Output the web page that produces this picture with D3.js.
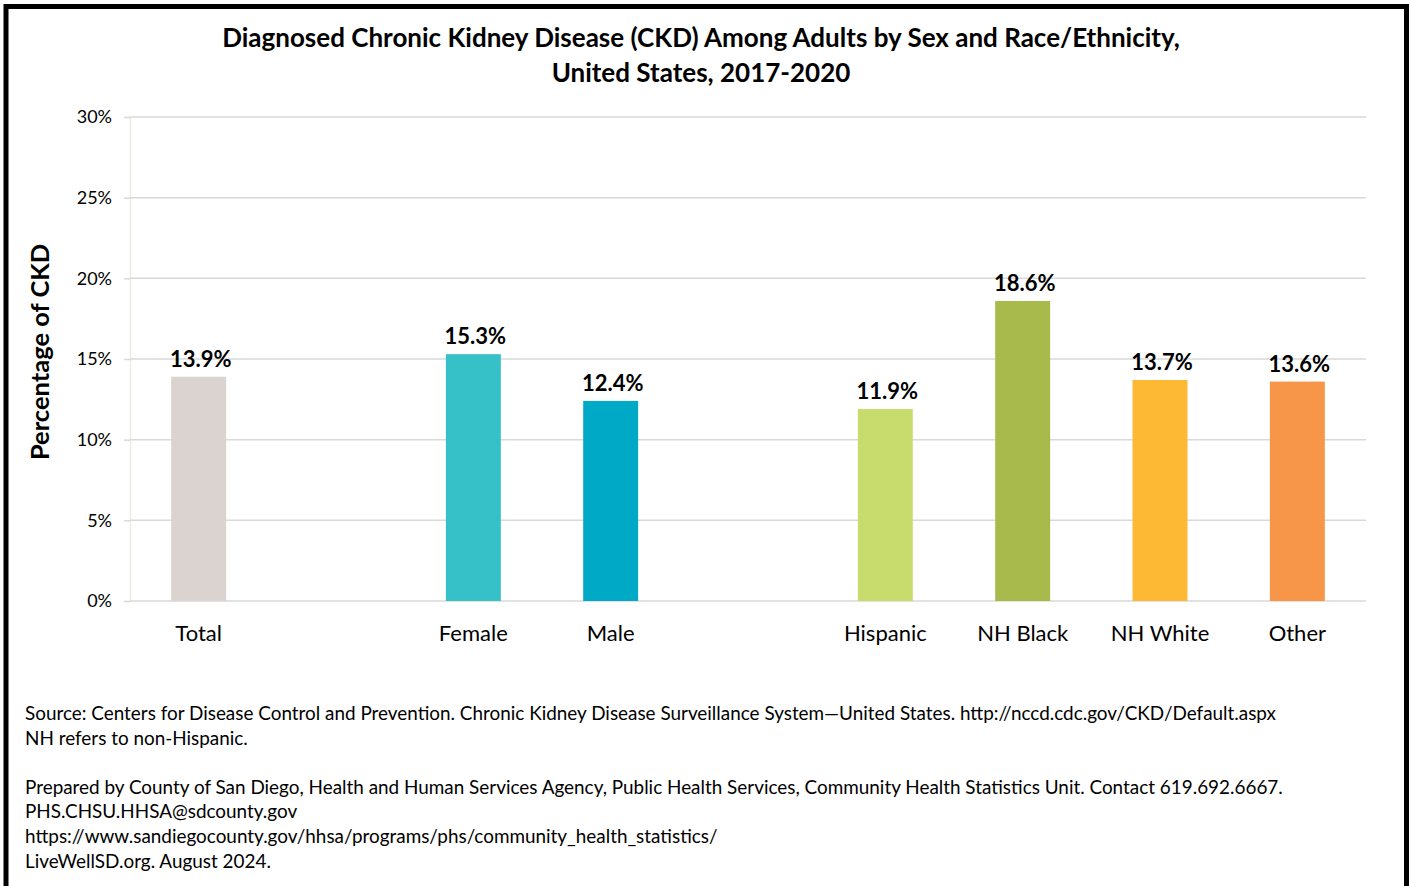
<!DOCTYPE html>
<html><head><meta charset="utf-8">
<script src="https://cdn.jsdelivr.net/npm/d3@7"></script>
<style>
html,body{margin:0;padding:0;background:#fff;}
svg{display:block;font-family:Lato, "Open Sans", sans-serif;}
</style></head>
<body>
<svg id="chart" width="1411" height="886"></svg>
<script>
const slots = ["Total","gap1","Female","Male","gap2","Hispanic","NH Black","NH White","Other"];
const categories = ["Total","Female","Male","Hispanic","NH Black","NH White","Other"];
const values = [13.9, 15.3, 12.4, 11.9, 18.6, 13.7, 13.6];
const colors = ["#dad3cf","#36c0c8","#00a9c6","#c8dc6e","#a7ba4b","#fdb934","#f79648"];
const yTicks = [0,5,10,15,20,25,30];
const titleLines = ["Diagnosed Chronic Kidney Disease (CKD) Among Adults by Sex and Race/Ethnicity,","United States, 2017-2020"];
const footLines = [
 "Source: Centers for Disease Control and Prevention. Chronic Kidney Disease Surveillance System\u2014United States. http://nccd.cdc.gov/CKD/Default.aspx",
 "NH refers to non-Hispanic.",
 "",
 "Prepared by County of San Diego, Health and Human Services Agency, Public Health Services, Community Health Statistics Unit. Contact 619.692.6667.",
 "PHS.CHSU.HHSA@sdcounty.gov",
 "https://www.sandiegocounty.gov/hhsa/programs/phs/community_health_statistics/",
 "LiveWellSD.org. August 2024."
];
const data = categories.map((c,i)=>({cat:c,val:values[i],color:colors[i]}));

const svg = d3.select("#chart");
const m = {left:130, right:1366, top:117, bottom:601};
const x = d3.scaleBand().domain(slots).range([m.left,m.right]).paddingInner(0.6).paddingOuter(0.3);
const y = d3.scaleLinear().domain([0,30]).range([m.bottom,m.top]);

// border
svg.append("path").attr("d","M6,886 V6.5 H1406.5 V886").attr("fill","none").attr("stroke","#000").attr("stroke-width",5);

// title
svg.append("g").selectAll("text").data(titleLines).join("text")
 .attr("x",701).attr("y",(d,i)=>47+i*35).attr("text-anchor","middle")
 .attr("font-weight","bold").attr("font-size",26).attr("fill","#000").text(d=>d);

// grid / y axis
const yAxis = d3.axisLeft(y).tickValues(yTicks).tickFormat(d=>d+"%").tickSize(6).tickPadding(12);
const gy = svg.append("g").attr("transform",`translate(${m.left},0)`).call(yAxis);
gy.select(".domain").attr("stroke","#f0ebe0").attr("stroke-width",1.5);
gy.selectAll(".tick line").attr("stroke","#d9d9d9").attr("stroke-width",1.5);
gy.selectAll(".tick text").attr("font-size",18).attr("fill","#000").attr("font-family","Lato, sans-serif");
svg.append("g").selectAll("line").data(yTicks).join("line")
 .attr("x1",m.left).attr("x2",m.right).attr("y1",d=>y(d)).attr("y2",d=>y(d))
 .attr("stroke","#d9d9d9").attr("stroke-width",1.5);

// bars
svg.append("g").selectAll("rect").data(data).join("rect")
 .attr("x",d=>x(d.cat)).attr("width",x.bandwidth())
 .attr("y",d=>y(d.val)).attr("height",d=>y(0)-y(d.val)).attr("fill",d=>d.color);

// value labels
svg.append("g").selectAll("text").data(data).join("text")
 .attr("x",d=>x(d.cat)+x.bandwidth()/2+2).attr("y",d=>y(d.val)-10)
 .attr("text-anchor","middle").attr("font-weight","bold").attr("font-size",22).attr("fill","#000")
 .text(d=>d.val.toFixed(1)+"%");

// x axis labels
const xAxis = d3.axisBottom(x).tickValues(categories).tickSize(0).tickPadding(0);
const gx = svg.append("g").attr("transform",`translate(0,${m.bottom})`).call(xAxis);
gx.select(".domain").remove();
gx.selectAll(".tick text").attr("font-size",22).attr("fill","#000").attr("font-family","Lato, sans-serif").attr("dy",0).attr("y",40);

// y axis title
svg.append("text").attr("transform","translate(49,352) rotate(-90)").attr("text-anchor","middle")
 .attr("font-weight","bold").attr("font-size",25.5).attr("fill","#000").text("Percentage of CKD");

// footnotes
svg.append("g").selectAll("text").data(footLines).join("text")
 .attr("x",25).attr("y",(d,i)=>720+i*24.6).attr("font-size",18.9).attr("fill","#000").text(d=>d);
</script>
</body></html>
